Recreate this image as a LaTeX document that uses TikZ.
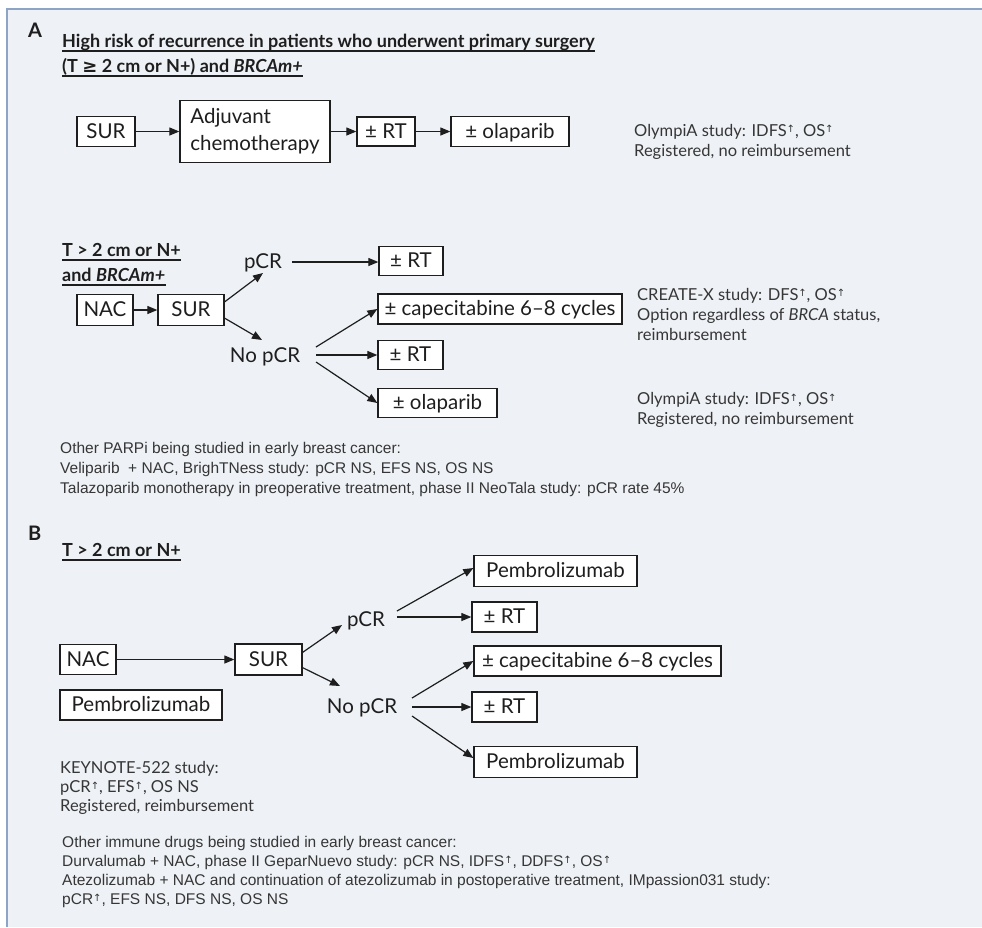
\documentclass[tikz,border=0pt]{standalone}
\usepackage{fontspec}
\setmainfont{Lato}
\newfontfamily\arialf{Liberation Sans}
\newfontfamily\symf{DejaVu Sans}
\usetikzlibrary{arrows.meta}
\definecolor{bg}{HTML}{EEF1F5}
\definecolor{frame}{HTML}{8DA4C6}
\definecolor{ink}{HTML}{1E1E1E}
\definecolor{note}{HTML}{363636}
\newcommand{\up}{{\symf\fontsize{10}{10}\selectfont\raisebox{0.55ex}{↑}}}
\tikzset{
  bx/.style={draw=ink, line width=1.3pt, fill=white, text=ink, font=\fontsize{20.5}{24}\selectfont, inner sep=0pt, text height=15pt, text depth=2pt},
  bxm/.style={draw=ink, line width=1.3pt, fill=white, text=ink, font=\fontsize{20.5}{27}\selectfont, inner sep=0pt, align=left},
  lbl/.style={text=ink, font=\fontsize{20.5}{24}\selectfont, inner sep=0pt, text height=15pt, text depth=2pt},
  arr/.style={-{Triangle[length=10pt,width=8pt]}, line width=1.2pt, draw=ink},
  note/.style={text=note, font=\fontsize{16.5}{20}\selectfont, inner sep=0pt, anchor=base west},
  anote/.style={text=note, font=\arialf\fontsize{15.5}{20}\selectfont, inner sep=0pt, anchor=base west},
  ttl/.style={text=ink, font=\bfseries\fontsize{18}{22}\selectfont, inner sep=0pt, anchor=base west},
  plab/.style={text=ink, font=\bfseries\fontsize{20}{22}\selectfont, inner sep=0pt, anchor=base west},
  ul/.style={draw=ink, line width=1.2pt},
}
\begin{document}
\begin{tikzpicture}[x=1pt,y=-1pt]
\useasboundingbox (0,0) rectangle (982,927);
\fill[white] (0,0) rectangle (982,927);
\fill[bg] (7,9) rectangle (982,927);
\draw[frame,line width=2pt] (7,927) -- (7,9) -- (982,9);

% ---------- Section A ----------
\node[plab] (labA) at (28,37) {A};
\node[ttl] (tA1) at (62,47) {High risk of recurrence in patients who underwent primary surgery};
\node[ttl] (tA2) at (62,72) {(T {\symf ≥} 2 cm or N+) and \textit{BRCAm+}};
\draw[ul] ([yshift=-4pt]tA1.base west) -- ([yshift=-4pt]tA1.base east);
\draw[ul] ([yshift=-4pt]tA2.base west) -- ([yshift=-4pt]tA2.base east);

\node[bx, minimum width=58pt, minimum height=30pt] (sur1) at (106,131.5) {SUR};
\node[bxm, minimum width=150pt, minimum height=62pt] (adj) at (255,131.5) {Adjuvant\\chemotherapy};
\node[bx, minimum width=58pt, minimum height=29pt] (rt1) at (386,131.5) {± RT};
\node[bx, minimum width=118pt, minimum height=30pt] (olap1) at (510,131.5) {± olaparib};
\draw[arr] (sur1) -- (adj);
\draw[arr] (adj) -- (rt1);
\draw[arr] (rt1) -- (olap1);
\node[note] (n1a) at (634,136) {OlympiA study: IDFS\up, OS\up};
\node[note] (n1b) at (634,156) {Registered, no reimbursement};

\node[ttl] (tA3) at (62,256) {T > 2 cm or N+};
\node[ttl] (tA4) at (62,281) {and \textit{BRCAm+}};
\draw[ul] ([yshift=-4pt]tA3.base west) -- ([yshift=-4pt]tA3.base east);
\draw[ul] ([yshift=-4pt]tA4.base west) -- ([yshift=-4pt]tA4.base east);

\node[lbl] (pcrA) at (263,262) {pCR};
\node[bx, minimum width=64pt, minimum height=29pt] (rtA) at (411,261) {± RT};
\node[bx, minimum width=56pt, minimum height=31pt] (nacA) at (105,310) {NAC};
\node[bx, minimum width=66pt, minimum height=31pt] (surA) at (191,310) {SUR};
\node[lbl] (nopcrA) at (265,356) {No pCR};
\node[bx, minimum width=244pt, minimum height=30pt] (capA) at (500,309) {± capecitabine 6–8 cycles};
\node[bx, minimum width=65pt, minimum height=29pt] (rtA2) at (410.5,355) {± RT};
\node[bx, minimum width=119pt, minimum height=29pt] (olapA) at (437.5,403) {± olaparib};

\draw[arr] (nacA) -- (surA);
\draw[arr] ([yshift=-8pt]surA.north east) -- ([yshift=-11pt]pcrA.center);
\draw[arr] ([yshift=8pt]surA.south east) -- ([xshift=-3pt,yshift=16pt]nopcrA.center);
\draw[arr] (pcrA.center -| 292,0) -- (pcrA.center -| rtA.west);
\coordinate (nA) at ([xshift=51pt]nopcrA.center);
\draw[arr] ([yshift=9pt]nA) -- (capA.west);
\draw[arr] (nA |- rtA2.west) -- (rtA2.west);
\draw[arr] ([yshift=-6pt]nA) -- (olapA.west);

\node[note] (n2a) at (637,300) {CREATE-X study: DFS\up, OS\up};
\node[note] (n2b) at (637,320) {Option regardless of \textit{BRCA} status,};
\node[note] (n2c) at (637,340) {reimbursement};
\node[note] (n3a) at (637,404) {OlympiA study: IDFS\up, OS\up};
\node[note] (n3b) at (637,424) {Registered, no reimbursement};

\node[anote] (p1) at (60,453) {Other PARPi being studied in early breast cancer:};
\node[anote] (p2) at (60,473) {Veliparib\ \ + NAC, BrighTNess study: pCR NS, EFS NS, OS NS};
\node[anote] (p3) at (60,493) {Talazoparib monotherapy in preoperative treatment, phase II NeoTala study: pCR rate 45\%};

% ---------- Section B ----------
\node[plab] (labB) at (28,540) {B};
\node[ttl] (tB) at (62,556) {T > 2 cm or N+};
\draw[ul] ([yshift=-4pt]tB.base west) -- ([yshift=-4pt]tB.base east);

\node[bx, minimum width=163pt, minimum height=31pt] (pembT) at (555.5,571) {Pembrolizumab};
\node[bx, minimum width=65pt, minimum height=30pt] (rtB) at (504.5,617) {± RT};
\node[lbl] (pcrB) at (366,620) {pCR};
\node[bx, minimum width=56pt, minimum height=30pt] (nacB) at (88,659.5) {NAC};
\node[bx, minimum width=67pt, minimum height=31pt] (surB) at (268.5,659.5) {SUR};
\node[bx, minimum width=247pt, minimum height=30pt] (capB) at (597.5,661) {± capecitabine 6–8 cycles};
\node[bx, minimum width=162pt, minimum height=30pt] (pembL) at (141,705) {Pembrolizumab};
\node[lbl] (nopcrB) at (362,707) {No pCR};
\node[bx, minimum width=65pt, minimum height=30pt] (rtB2) at (504.5,707) {± RT};
\node[bx, minimum width=163pt, minimum height=31pt] (pembB) at (555.5,762) {Pembrolizumab};

\draw[arr] (nacB) -- (surB);
\draw[arr] ([yshift=-9pt]surB.north east) -- ([xshift=-24pt,yshift=-5pt]pcrB.center);
\draw[arr] ([yshift=8pt]surB.south east) -- ([xshift=-22pt,yshift=21pt]nopcrB.center);
\coordinate (pB) at ([xshift=31pt]pcrB.center);
\draw[arr] ([yshift=9pt]pB) -- ([yshift=3pt]pembT.west);
\draw[arr] (pB |- rtB.west) -- (rtB.west);
\coordinate (nB) at ([xshift=50pt]nopcrB.center);
\draw[arr] ([yshift=9pt]nB) -- (capB.west);
\draw[arr] (nB |- rtB2.west) -- (rtB2.west);
\draw[arr] ([yshift=-9pt]nB) -- ([yshift=4pt]pembB.west);

\node[note] (k1) at (60,773) {KEYNOTE-522 study:};
\node[note] (k2) at (60,792) {pCR\up, EFS\up, OS NS};
\node[note] (k3) at (60,811) {Registered, reimbursement};

\node[anote] (o1) at (62,847) {Other immune drugs being studied in early breast cancer:};
\node[anote] (o2) at (62,866) {Durvalumab + NAC, phase II GeparNuevo study: pCR NS, IDFS\up, DDFS\up, OS\up};
\node[anote] (o3) at (62,885) {Atezolizumab + NAC and continuation of atezolizumab in postoperative treatment, IMpassion031 study:};
\node[anote] (o4) at (62,904) {pCR\up, EFS NS, DFS NS, OS NS};
\end{tikzpicture}
\end{document}
